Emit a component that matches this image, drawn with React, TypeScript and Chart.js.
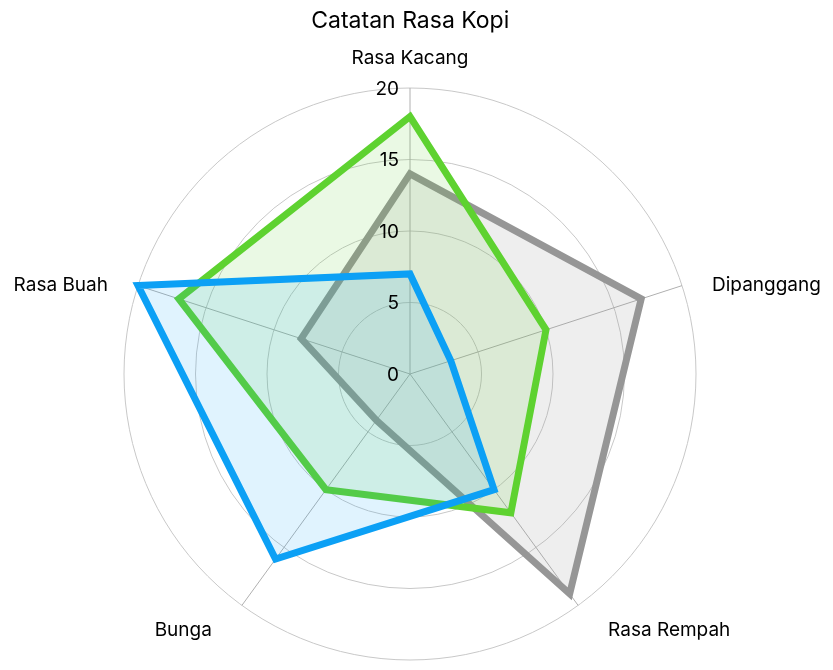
import { useEffect, useRef } from "react"
import { Chart, registerables } from "chart.js"

Chart.register(...registerables)

const axisLabels = ["Rasa Kacang", "Dipanggang", "Rasa Rempah", "Bunga", "Rasa Buah"]
const tickValues = [0, 5, 10, 15, 20]

// values per axis, same order as axisLabels
const kopiAbu = [14, 17, 19, 4, 8]
const kopiHijau = [18, 10, 12, 10, 17]
const kopiBiru = [7, 3, 10, 16, 20]

const FONT = 'Inter, "Liberation Sans", sans-serif'

// draws tick numbers left of the vertical axis and the axis names
const radarLabels = {
  id: "radarLabels",
  afterDraw(chart: Chart) {
    const scale: any = chart.scales.r
    const ctx = chart.ctx
    const xc = scale.xCenter
    const yc = scale.yCenter
    ctx.save()
    ctx.fillStyle = "#000"
    ctx.textBaseline = "middle"

    ctx.font = `19px ${FONT}`
    ctx.textAlign = "right"
    tickValues.forEach((v) => {
      const d = scale.getDistanceFromCenterForValue(v)
      ctx.fillText(String(v), xc - 11, yc - d + 1)
    })

    ctx.font = `19px ${FONT}`
    axisLabels.forEach((label, i) => {
      const p = scale.getPointPosition(i, scale.drawingArea)
      if (Math.abs(p.x - xc) < 1) {
        ctx.textAlign = "center"
        ctx.fillText(label, p.x, p.y - 30)
      } else {
        const right = p.x > xc
        ctx.textAlign = right ? "left" : "right"
        const y = p.y > yc ? p.y + 25 : p.y
        ctx.fillText(label, p.x + (right ? 30 : -30), y)
      }
    })
    ctx.restore()
  },
}

export default function App() {
  const chartRef = useRef<HTMLCanvasElement>(null)
  const chartInstance = useRef<Chart | null>(null)

  useEffect(() => {
    if (!chartRef.current) return
    if (chartInstance.current) {
      chartInstance.current.destroy()
    }
    const ctx = chartRef.current.getContext("2d")
    if (!ctx) return

    chartInstance.current = new Chart(ctx, {
      type: "radar",
      data: {
        labels: axisLabels,
        datasets: [
          {
            label: "Biru",
            data: kopiBiru,
            borderColor: "rgb(12, 160, 245)",
            backgroundColor: "rgba(12, 160, 245, 0.13)",
            borderWidth: 7,
            pointRadius: 0,
            fill: true,
          },
          {
            label: "Hijau",
            data: kopiHijau,
            borderColor: "rgb(94, 210, 48)",
            backgroundColor: "rgba(94, 210, 48, 0.13)",
            borderWidth: 7,
            pointRadius: 0,
            fill: true,
          },
          {
            label: "Abu",
            data: kopiAbu,
            borderColor: "rgb(150, 150, 150)",
            backgroundColor: "rgba(150, 150, 150, 0.16)",
            borderWidth: 7,
            pointRadius: 0,
            fill: true,
          },
        ],
      },
      options: {
        responsive: false,
        animation: false,
        layout: {
          padding: { left: 124, right: 136.5, top: 0, bottom: 9.5 },
        },
        plugins: {
          legend: { display: false },
          tooltip: { enabled: false },
          title: {
            display: true,
            text: "Catatan Rasa Kopi",
            color: "#000",
            font: { family: FONT, size: 23, weight: "normal", lineHeight: 1.2 },
            padding: { top: 7, bottom: 53.4 },
          },
        },
        scales: {
          r: {
            min: 0,
            max: 20,
            ticks: { display: false, stepSize: 5 },
            pointLabels: { display: false },
            grid: { circular: true, color: "#c8c8c8", lineWidth: 1 },
            angleLines: { color: "#b0b0b0", lineWidth: 1 },
          },
        },
      },
      plugins: [radarLabels],
    })

    return () => {
      if (chartInstance.current) {
        chartInstance.current.destroy()
        chartInstance.current = null
      }
    }
  }, [])

  return (
    <div style={{ position: "fixed", left: 0, top: 0, width: 833, height: 670, background: "#fff" }}>
      <canvas ref={chartRef} width={833} height={670} />
    </div>
  )
}
